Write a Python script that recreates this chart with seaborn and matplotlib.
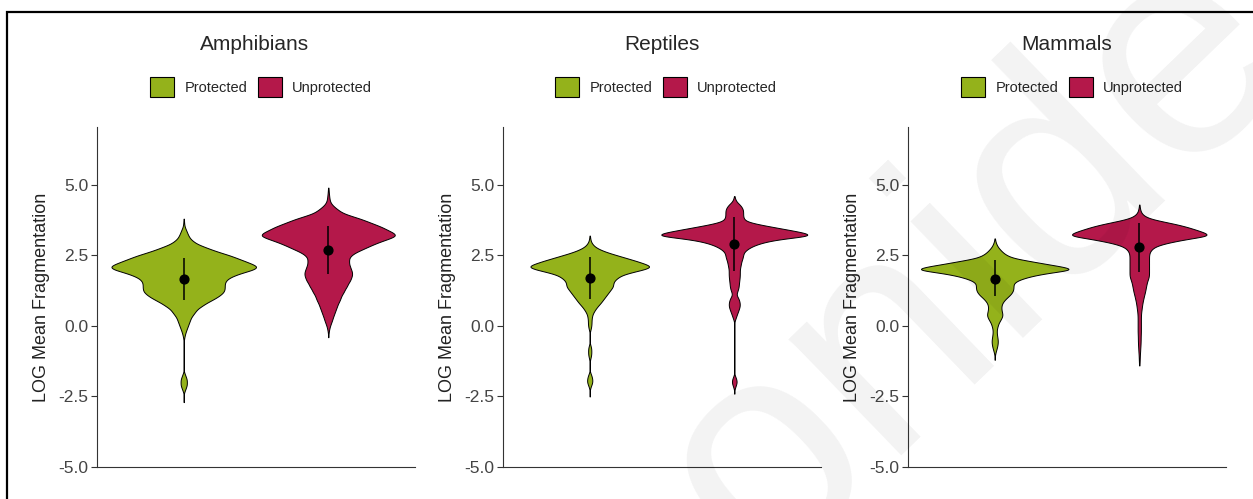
import numpy as np
import matplotlib.pyplot as plt
import seaborn as sns
from matplotlib.patches import Patch, Rectangle

sns.set_style("ticks")
plt.rcParams['font.family'] = ['Liberation Sans', 'DejaVu Sans']

taxa = ["Amphibians", "Reptiles", "Mammals"]
groups = ["Protected", "Unprotected"]
colors = {"Protected": "#94B21B", "Unprotected": "#B4184A"}

# histogram bin centres (LOG mean fragmentation), top to bottom
bins = np.array([
    4.9, 4.8, 4.7, 4.6, 4.5, 4.4, 4.3, 4.2, 4.1, 4.0,
    3.9, 3.8, 3.7, 3.6, 3.5, 3.4, 3.3, 3.2, 3.1, 3.0,
    2.9, 2.8, 2.7, 2.6, 2.5, 2.4, 2.3, 2.2, 2.1, 2.0,
    1.9, 1.8, 1.7, 1.6, 1.5, 1.4, 1.3, 1.2, 1.1, 1.0,
    0.9, 0.8, 0.7, 0.6, 0.5, 0.4, 0.3, 0.2, 0.1, 0.0,
    -0.1, -0.2, -0.3, -0.4, -0.5, -0.6, -0.7, -0.8, -0.9, -1.0,
    -1.1, -1.2, -1.3, -1.4, -1.5, -1.6, -1.7, -1.8, -1.9, -2.0,
    -2.1, -2.2, -2.3, -2.4, -2.5, -2.6, -2.7])

# counts per bin
amph_prot = [
    0, 0, 0, 0, 0, 0, 0, 0, 0, 0,
    0, 2, 3, 5, 10, 23, 33, 45, 60, 90,
    130, 200, 270, 350, 440, 510, 580, 650, 710, 670,
    570, 490, 430, 400, 390, 390, 390, 380, 350, 310,
    260, 210, 170, 130, 110, 90, 70, 60, 50, 40,
    30, 20, 12, 6, 2, 0, 0, 0, 0, 0,
    0, 0, 0, 0, 0, 0, 10, 20, 30, 30,
    30, 20, 10, 0, 0, 0, 2]
amph_unprot = [
    2, 4, 6, 9, 12, 18, 35, 65, 100, 140,
    220, 310, 380, 450, 520, 570, 630, 660, 590, 510,
    440, 380, 320, 260, 220, 200, 200, 200, 210, 220,
    230, 230, 220, 210, 190, 180, 160, 150, 130, 120,
    110, 95, 85, 75, 65, 55, 45, 37, 27, 17,
    10, 5, 2, 1, 0, 0, 0, 0, 0, 0,
    0, 0, 0, 0, 0, 0, 0, 0, 0, 0,
    0, 0, 0, 0, 0, 0, 0]
rept_prot = [
    0, 0, 0, 0, 0, 0, 0, 0, 0, 0,
    0, 0, 0, 0, 0, 0, 0, 2, 5, 10,
    25, 50, 100, 170, 260, 350, 440, 520, 590, 510,
    390, 300, 260, 230, 220, 220, 200, 180, 160, 140,
    120, 100, 75, 55, 38, 25, 20, 17, 17, 15,
    10, 2, 0, 0, 0, 0, 8, 15, 15, 15,
    10, 3, 0, 0, 0, 0, 10, 20, 25, 25,
    15, 5, 0, 0, 2, 0, 0]
rept_unprot = [
    0, 0, 0, 2, 8, 20, 50, 70, 80, 80,
    80, 85, 110, 220, 360, 500, 640, 720, 450, 300,
    210, 150, 110, 85, 80, 75, 65, 60, 55, 50,
    50, 50, 48, 45, 42, 40, 35, 25, 18, 35,
    45, 50, 50, 42, 33, 23, 15, 5, 0, 0,
    0, 0, 0, 0, 0, 0, 0, 0, 0, 0,
    0, 0, 0, 0, 0, 0, 0, 10, 20, 23,
    15, 6, 0, 2, 0, 0, 0]
mamm_prot = [
    0, 0, 0, 0, 0, 0, 0, 0, 0, 0,
    0, 0, 0, 0, 0, 0, 0, 0, 2, 6,
    15, 28, 50, 75, 110, 170, 320, 460, 620, 740,
    520, 370, 270, 200, 170, 170, 170, 160, 140, 110,
    85, 67, 60, 60, 65, 72, 65, 50, 35, 27,
    20, 18, 20, 24, 28, 28, 24, 18, 10, 4,
    0, 2, 0, 0, 0, 0, 0, 0, 0, 0,
    0, 0, 0, 0, 0, 0, 0]
mamm_unprot = [
    0, 0, 0, 0, 0, 0, 2, 5, 10, 20,
    45, 100, 220, 350, 450, 530, 610, 660, 470, 330,
    210, 140, 110, 95, 90, 90, 90, 90, 90, 90,
    90, 90, 85, 75, 68, 63, 58, 53, 46, 40,
    34, 29, 25, 22, 18, 16, 15, 15, 15, 15,
    15, 15, 14, 13, 13, 12, 11, 9, 8, 6,
    5, 4, 3, 2, 0, 0, 0, 0, 0, 0,
    0, 0, 0, 0, 0, 0, 0]

counts = {"Amphibians": [amph_prot, amph_unprot],
          "Reptiles": [rept_prot, rept_unprot],
          "Mammals": [mamm_prot, mamm_unprot]}

# mean and mean +/- sd, Protected then Unprotected
means = {"Amphibians": [1.68, 2.69], "Reptiles": [1.69, 2.89], "Mammals": [1.68, 2.81]}
sd_lo = {"Amphibians": [0.91, 1.84], "Reptiles": [0.95, 1.96], "Mammals": [1.07, 1.92]}
sd_hi = {"Amphibians": [2.42, 3.54], "Reptiles": [2.46, 3.87], "Mammals": [2.33, 3.66]}

W, H = 1253, 499
fig = plt.figure(figsize=(W / 100, H / 100), dpi=100)

ax_left = [97, 503, 908]
title_x = [255, 662, 1067]
legend_x = [261, 666, 1072]
vwidth = [[1.0, 0.92], [0.82, 1.01], [1.02, 0.93]]

for k, taxon in enumerate(taxa):
    ax = fig.add_axes([ax_left[k] / W, 32 / H, 318 / W, 340 / H])
    for j, grp in enumerate(groups):
        vals = np.repeat(bins, counts[taxon][j])
        bw = 0.07 / vals.std(ddof=1)
        sns.violinplot(x=[grp] * len(vals), y=vals, order=groups,
                       color=colors[grp], saturation=1, cut=0, inner=None,
                       density_norm="width", width=vwidth[k][j],
                       bw_method=bw, gridsize=400, linewidth=0.7,
                       linecolor="black", ax=ax)
    xs = [0, 1]
    ax.vlines(xs, sd_lo[taxon], sd_hi[taxon], color="black", lw=1.1, zorder=3)
    ax.scatter(xs, means[taxon], s=40, color="black", zorder=4)

    ax.set_xlim(-0.6, 1.6)
    ax.set_ylim(-5, 7.05)
    ax.set_yticks([-5, -2.5, 0, 2.5, 5])
    ax.set_yticklabels(["-5.0", "-2.5", "0.0", "2.5", "5.0"])
    ax.set_xticks([])
    ax.set_xlabel("")
    ax.set_ylabel("LOG Mean Fragmentation", fontsize=13, color="#222222", labelpad=6)
    ax.tick_params(axis="y", length=4, width=0.8, color="#333333",
                   labelsize=12.5, labelcolor="#444444", pad=2)
    sns.despine(ax=ax)
    for s in ["left", "bottom"]:
        ax.spines[s].set_color("#333333")
        ax.spines[s].set_linewidth(0.8)

    fig.text(title_x[k] / W, 1 - 45 / H, taxon, ha="center", va="center", fontsize=15)
    handles = [Patch(facecolor=colors[g], edgecolor="black", lw=0.8, label=g) for g in groups]
    fig.legend(handles=handles, loc="center", bbox_to_anchor=(legend_x[k] / W, 1 - 87 / H),
               ncol=2, frameon=False, fontsize=10.5, handlelength=1.65,
               handleheight=1.65, handletextpad=0.7, columnspacing=0.7)

# outer frame
fig.add_artist(Rectangle((7 / W, -0.1), 1.2, 1.088 - 6 / H, transform=fig.transFigure,
                         fill=False, lw=1.6, edgecolor="black"))

# faint watermark
fig.text(975 / W, 1 - 262 / H, "onide", rotation=44, fontsize=220, color="black",
         alpha=0.05, ha="center", va="center", rotation_mode="anchor", zorder=10)

fig.savefig("out.png", dpi=100)
